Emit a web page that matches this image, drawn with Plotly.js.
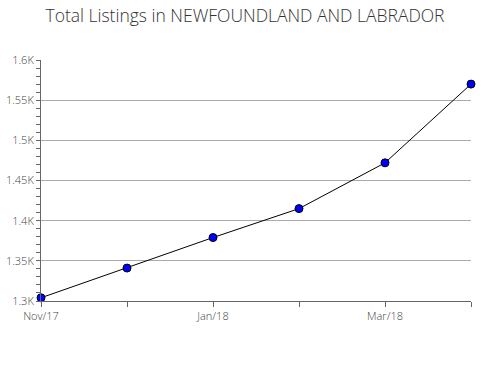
<!DOCTYPE html>
<html>
<head>
<meta charset="utf-8">
<script src="https://cdn.plot.ly/plotly-3.0.1.min.js"></script>
<style>html,body{margin:0;padding:0;background:#fff;}#chart{width:490px;height:380px;}</style>
</head>
<body>
<div id="chart"></div>
<script>
const months = ["Nov/17", "Dec/17", "Jan/18", "Feb/18", "Mar/18", "Apr/18"];
const tickLabels = ["Nov/17", "", "Jan/18", "", "Mar/18", ""];
const listings = [1304, 1341, 1379, 1415, 1472, 1570];
const yTickVals = [1300, 1350, 1400, 1450, 1500, 1550, 1600];
const yTickText = ["1.3K", "1.35K", "1.4K", "1.45K", "1.5K", "1.55K", "1.6K"];

const idx = months.map((m, i) => i);
const trace = {
  x: idx, y: listings, type: 'scatter', mode: 'lines+markers',
  line: {color: '#000', width: 1},
  marker: {color: '#0000ff', size: 8, line: {color: '#000', width: 1}},
  cliponaxis: false, hoverinfo: 'x+y'
};
const layout = {
  width: 490, height: 380,
  margin: {l: 41, r: 19, t: 60, b: 79},
  paper_bgcolor: '#fff', plot_bgcolor: '#fff',
  font: {family: 'Open Sans, sans-serif', color: '#555'},
  title: {text: 'Total Listings in NEWFOUNDLAND AND LABRADOR', x: 0.5, xanchor: 'center', y: 0.958, yanchor: 'middle',
          font: {size: 17.5, color: '#333', family: 'Open Sans, sans-serif', weight: 300}},
  showlegend: false,
  xaxis: {
    range: [0, 5], tickvals: idx, ticktext: tickLabels,
    showgrid: false, zeroline: false,
    showline: true, linecolor: '#666', linewidth: 1,
    ticks: 'outside', ticklen: 5, tickcolor: '#666',
    tickfont: {size: 11, color: '#444', weight: 300}
  },
  yaxis: {
    range: [1300, 1600], tickvals: yTickVals, ticktext: yTickText,
    showgrid: true, gridcolor: '#aaa', gridwidth: 1, zeroline: false,
    showline: true, linecolor: '#666', linewidth: 1,
    ticks: 'outside', ticklen: 4, tickcolor: '#666',
    minor: {dtick: 10, tick0: 1300, ticks: 'outside', ticklen: 4, tickcolor: '#666', showgrid: false},
    tickfont: {size: 11, color: '#444', weight: 300}
  }
};
Plotly.newPlot('chart', [trace], layout, {displayModeBar: false, staticPlot: true});
</script>
</body>
</html>
